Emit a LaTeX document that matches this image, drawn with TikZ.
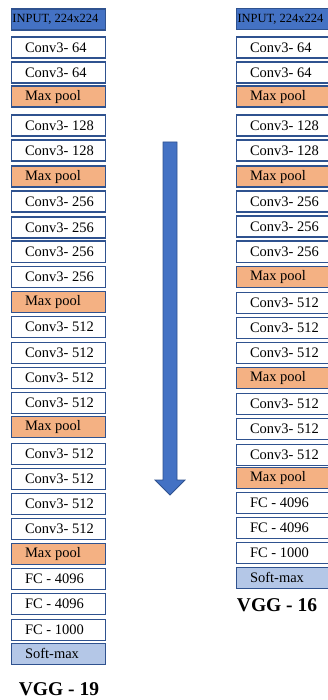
\documentclass[tikz,border=0pt]{standalone}
\usepackage{fontspec}
\setmainfont{Liberation Serif}
\definecolor{bord}{HTML}{2F528F}
\definecolor{inpblue}{HTML}{4472C4}
\definecolor{poolor}{HTML}{F4B183}
\definecolor{softbl}{HTML}{B4C7E7}
\newcommand{\bxt}[1]{\makebox[67pt][l]{#1}}
\begin{document}
\begin{tikzpicture}[x=1pt,y=-1pt,
 layer/.style={draw=bord,line width=1.5pt,minimum width=94pt,minimum height=21pt,inner sep=0pt,font=\fontsize{14.5}{16}\selectfont,text=black},
 conv/.style={layer,fill=white},
 pool/.style={layer,fill=poolor},
 soft/.style={layer,fill=softbl},
 inp/.style={layer,fill=inpblue,font=\fontsize{12.5}{14}\selectfont},
 title/.style={font=\fontsize{19.5}{22}\selectfont\bfseries,inner sep=0pt},
 bigarrow/.style={fill=inpblue,draw=bord,line width=0.8pt,line join=miter}]
\useasboundingbox (0,0) rectangle (328,700);
% left column: VGG-19
\node[inp] (L0) at (58.5,19.5) {\makebox[92pt][l]{INPUT, 224x224}};
\foreach [count=\i] \yt/\st/\tx in {
 37/conv/Conv3- 64, 62/conv/Conv3- 64, 86/pool/Max pool,
 115/conv/Conv3- 128, 140/conv/Conv3- 128, 166/pool/Max pool,
 191/conv/Conv3- 256, 217/conv/Conv3- 256, 241/conv/Conv3- 256, 266/conv/Conv3- 256, 291/pool/Max pool,
 316/conv/Conv3- 512, 342/conv/Conv3- 512, 367/conv/Conv3- 512, 392/conv/Conv3- 512, 416/pool/Max pool,
 443/conv/Conv3- 512, 468/conv/Conv3- 512, 493/conv/Conv3- 512, 518/conv/Conv3- 512, 543/pool/Max pool,
 568/conv/FC - 4096, 593/conv/FC - 4096, 619/conv/FC - 1000, 643/soft/Soft-max}
 {\node[\st] (L\i) at (58.5,\yt+10.75) {\bxt{\tx}};}
\node[title] (T19) at (59,689) {VGG - 19};
% right column: VGG-16
\node[inp] (R0) at (283.5,19) {\makebox[92pt][l]{INPUT, 224x224}};
\foreach [count=\i] \yt/\st/\tx in {
 37/conv/Conv3- 64, 62/conv/Conv3- 64, 86/pool/Max pool,
 115/conv/Conv3- 128, 140/conv/Conv3- 128, 166/pool/Max pool,
 191/conv/Conv3- 256, 216/conv/Conv3- 256, 241/conv/Conv3- 256, 266/pool/Max pool,
 292/conv/Conv3- 512, 317/conv/Conv3- 512, 342/conv/Conv3- 512, 367/pool/Max pool,
 393/conv/Conv3- 512, 418/conv/Conv3- 512, 444/conv/Conv3- 512, 467/pool/Max pool,
 492/conv/FC - 4096, 517/conv/FC - 4096, 542/conv/FC - 1000, 567/soft/Soft-max}
 {\node[\st] (R\i) at (283.5,\yt+10.75) {\bxt{\tx}};}
\node[title] (T16) at (277,605) {VGG - 16};
% big downward arrow
\draw[bigarrow] (163,142) -- (177,142) -- (177,480) -- (185,480) -- (170,495) -- (155,480) -- (163,480) -- cycle;
\end{tikzpicture}
\end{document}
